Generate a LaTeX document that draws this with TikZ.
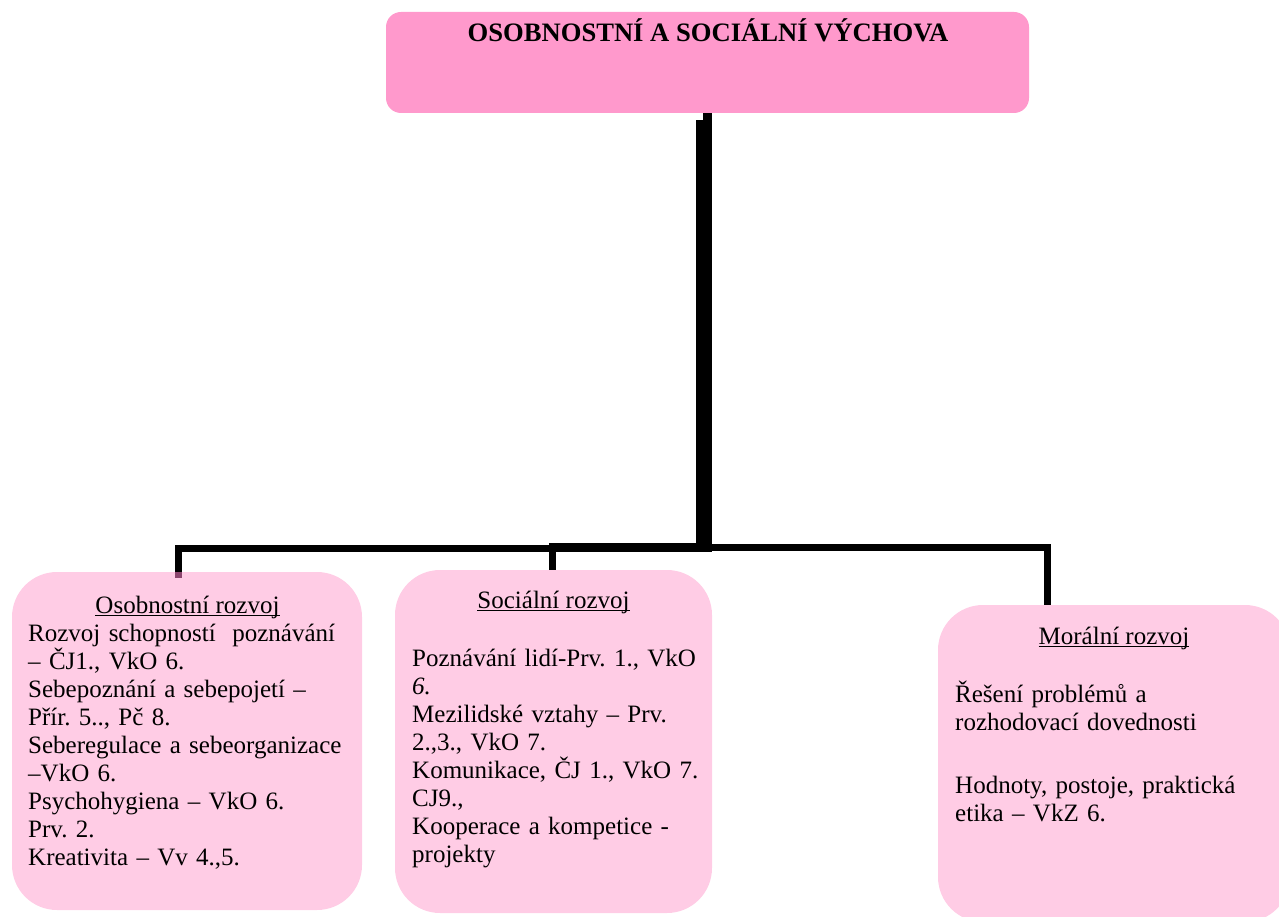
\documentclass[tikz,border=0pt]{standalone}
\usepackage{fontspec}
\setmainfont{Liberation Serif}
\frenchspacing
\definecolor{titlepink}{HTML}{FF99CC}
\definecolor{boxpink}{HTML}{FFCCE5}
\definecolor{tipcol}{RGB}{140,70,110}
\newcommand\myul[1]{\setbox0\hbox{#1}\rlap{\rule[-2.8pt]{\wd0}{1.3pt}}\box0}
\tikzset{
  topbox/.style={fill=titlepink, rounded corners=15pt, inner sep=0pt, minimum width=643pt, minimum height=101pt},
  subbox/.style={fill=boxpink, rounded corners=45pt, inner sep=0pt},
  link/.style={line width=7pt, line join=miter},
  trunk/.style={line width=16pt},
  body/.style={inner sep=0pt, text width=360pt, align=left, anchor=base west, font=\fontsize{25}{28}\selectfont\frenchspacing},
  head/.style={inner sep=0pt, anchor=base, font=\fontsize{25}{28}\selectfont},
  title/.style={inner sep=0pt, anchor=base, font=\fontsize{26.6}{30}\selectfont\bfseries},
}
\begin{document}
\begin{tikzpicture}[x=1pt,y=-1pt]
\useasboundingbox (0,0) rectangle (1279,917);
\clip (0,0) rectangle (1279,917);
% boxes
\node[topbox] (top) at (707.5,62.5) {};
\node[subbox, minimum width=350pt, minimum height=338pt] (osob) at (187,741) {};
\node[subbox, minimum width=317pt, minimum height=343pt] (soc) at (553.5,741.5) {};
\node[subbox, minimum width=352pt, minimum height=317pt] (mor) at (1114,763.5) {};
% junction coordinates
\coordinate (J) at (704,548);
\coordinate (J2) at (704,546);
\coordinate (J3) at (704,547);
\coordinate (xL) at (178.5,0);
\coordinate (xM) at (552,0);
\coordinate (xR) at (1047,0);
% connectors
\draw[link] (osob.north -| xL) |- (J);
\draw[link] (soc.north -| xM) |- (J2);
\draw[link] (mor.north -| xR) |- (J3);
\draw[line width=9pt] (top.south) -- ([yshift=-8pt]top.south);
\draw[trunk] ([yshift=-7pt]top.south -| J) -- ([yshift=-4pt]J);
\draw[line width=7pt, draw=tipcol] (osob.north -| xL) -- ++(0,6);
% texts
\node[title] (ttl) at (708,42) {OSOBNOSTNÍ A SOCIÁLNÍ VÝCHOVA};
\node[head] (h1) at (187.5,613) {\myul{Osobnostní rozvoj}};
\node[body] (t1) at (28,641) {Rozvoj schopností~ poznávání\\– ČJ1., VkO 6.\\Sebepoznání a sebepojetí –\\Přír. 5.., Pč 8.\\Seberegulace a sebeorganizace\\–VkO 6.\\Psychohygiena – VkO 6.\\Prv. 2.\\Kreativita – Vv 4.,5.};
\node[head] (h2) at (553.5,608) {\myul{Sociální rozvoj}};
\node[body] (t2) at (412,666) {Poznávání lidí-Prv. 1., VkO\\\textit{6.}\\Mezilidské vztahy – Prv.\\2.,3., VkO 7.\\Komunikace, ČJ 1., VkO 7.\\CJ9.,\\Kooperace a kompetice -\\projekty};
\node[head] (h3) at (1114,644) {\myul{Morální rozvoj}};
\node[body] (t3a) at (955,702) {Řešení problémů a\\rozhodovací dovednosti};
\node[body] (t3b) at (955,793) {Hodnoty, postoje, praktická\\etika – VkZ 6.};
\end{tikzpicture}
\end{document}
